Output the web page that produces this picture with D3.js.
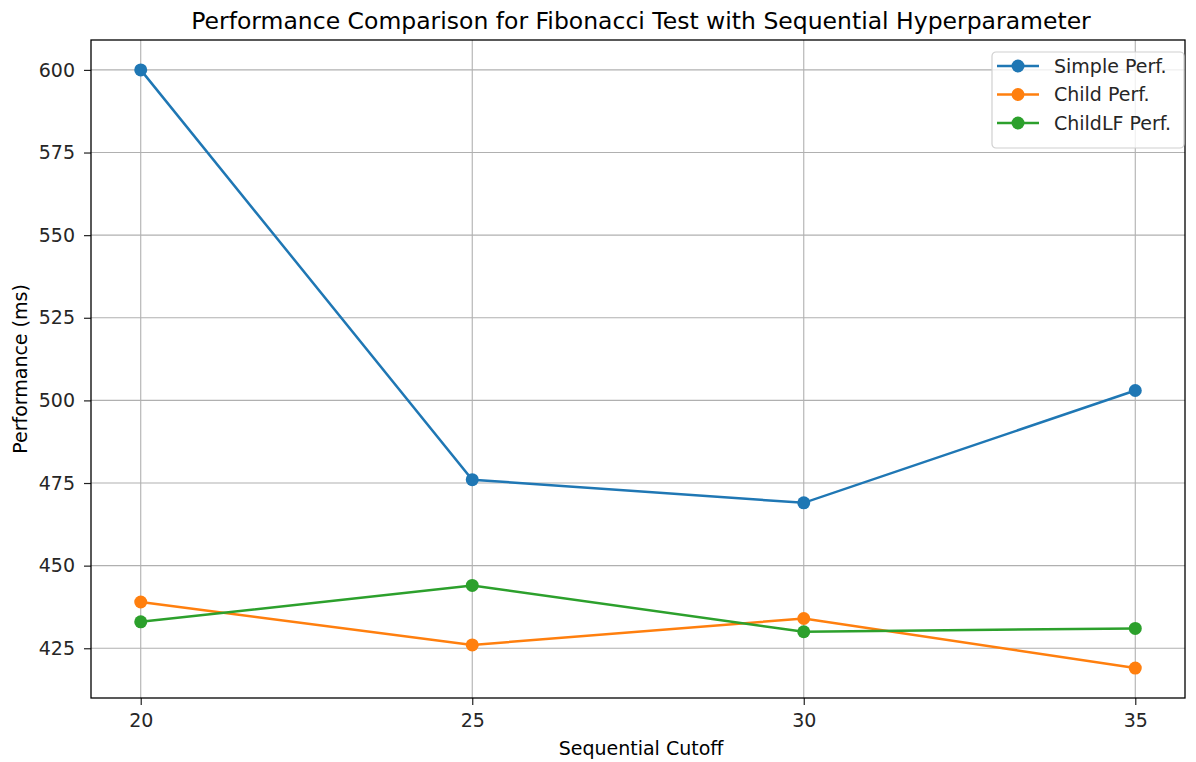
<!DOCTYPE html>
<html>
<head>
<meta charset="utf-8">
<script src="https://cdn.jsdelivr.net/npm/d3@7"></script>
<style>
  body { margin: 0; background: #fff; }
  svg { display: block; font-family: "DejaVu Sans", sans-serif; }
</style>
</head>
<body>
<svg id="chart" width="1196" height="762"></svg>
<script>
const cutoffs = [20, 25, 30, 35];
const simplePerf = [600, 476, 469, 503];
const childPerf = [439, 426, 434, 419];
const childLFPerf = [433, 444, 430, 431];
const yTicks = [425, 450, 475, 500, 525, 550, 575, 600];
const seriesNames = ["Simple Perf.", "Child Perf.", "ChildLF Perf."];
const seriesColors = ["#1f77b4", "#ff7f0e", "#2ca02c"];
const seriesData = [simplePerf, childPerf, childLFPerf];

const svg = d3.select("#chart");
const L = 91, R = 1185, T = 40, B = 698;
const FS = 19;

const x = d3.scaleLinear().domain([19.25, 35.75]).range([L, R]);
const allVals = seriesData.flat();
const ymin = d3.min(allVals), ymax = d3.max(allVals);
const pad = (ymax - ymin) * 0.05;
const y = d3.scaleLinear().domain([ymin - pad, ymax + pad]).range([B, T]);

// grid
const grid = svg.append("g");
grid.selectAll("line.gx").data(cutoffs).join("line")
  .attr("x1", d => x(d)).attr("x2", d => x(d)).attr("y1", T).attr("y2", B)
  .attr("stroke", "#b0b0b0").attr("stroke-width", 1.1);
grid.selectAll("line.gy").data(yTicks).join("line")
  .attr("y1", d => y(d)).attr("y2", d => y(d)).attr("x1", L).attr("x2", R)
  .attr("stroke", "#b0b0b0").attr("stroke-width", 1.1);

// axes
const xAxis = d3.axisBottom(x).tickValues(cutoffs).tickSize(7).tickPadding(8);
const yAxis = d3.axisLeft(y).tickValues(yTicks).tickSize(7).tickPadding(9);
const gx = svg.append("g").attr("transform", `translate(0,${B})`).call(xAxis);
const gy = svg.append("g").attr("transform", `translate(${L},0)`).call(yAxis);
[gx, gy].forEach(g => {
  g.select(".domain").remove();
  g.selectAll("text").attr("font-size", FS).attr("fill", "#262626").attr("font-family", "DejaVu Sans, sans-serif");
  g.selectAll("line").attr("stroke", "#222").attr("stroke-width", 1.2);
});
gx.selectAll("text").attr("dy", "0.72em");

// series
const line = d3.line().x((d, i) => x(cutoffs[i])).y(d => y(d));
seriesData.forEach((vals, si) => {
  svg.append("path").datum(vals).attr("d", line)
    .attr("fill", "none").attr("stroke", seriesColors[si]).attr("stroke-width", 2.5);
  svg.selectAll(null).data(vals).join("circle")
    .attr("cx", (d, i) => x(cutoffs[i])).attr("cy", d => y(d)).attr("r", 6.5)
    .attr("fill", seriesColors[si]);
});

// frame
svg.append("rect").attr("x", L).attr("y", T).attr("width", R - L).attr("height", B - T)
  .attr("fill", "none").attr("stroke", "#000").attr("stroke-width", 1.3);

// title and labels
svg.append("text").attr("x", (L + R) / 2 + 3).attr("y", 29).attr("text-anchor", "middle")
  .attr("font-size", 23.5).attr("fill", "#000")
  .text("Performance Comparison for Fibonacci Test with Sequential Hyperparameter");
svg.append("text").attr("x", (L + R) / 2 + 3).attr("y", 755).attr("text-anchor", "middle")
  .attr("font-size", FS).attr("fill", "#000").text("Sequential Cutoff");
svg.append("text").attr("transform", `translate(27,${(T + B) / 2}) rotate(-90)`)
  .attr("text-anchor", "middle").attr("font-size", FS).attr("fill", "#000").text("Performance (ms)");

// legend
const lg = svg.append("g").attr("transform", "translate(992,52)");
lg.append("rect").attr("width", 192).attr("height", 96).attr("rx", 4)
  .attr("fill", "rgba(255,255,255,0.8)").attr("stroke", "#d0d0d0").attr("stroke-width", 1.2);
seriesNames.forEach((name, i) => {
  const yy = 14 + i * 28.5;
  lg.append("line").attr("x1", 5).attr("x2", 47).attr("y1", yy).attr("y2", yy)
    .attr("stroke", seriesColors[i]).attr("stroke-width", 2.5);
  lg.append("circle").attr("cx", 26).attr("cy", yy).attr("r", 6.5).attr("fill", seriesColors[i]);
  lg.append("text").attr("x", 62).attr("y", yy + 6.5).attr("font-size", FS).attr("fill", "#262626").text(name);
});
</script>
</body>
</html>
